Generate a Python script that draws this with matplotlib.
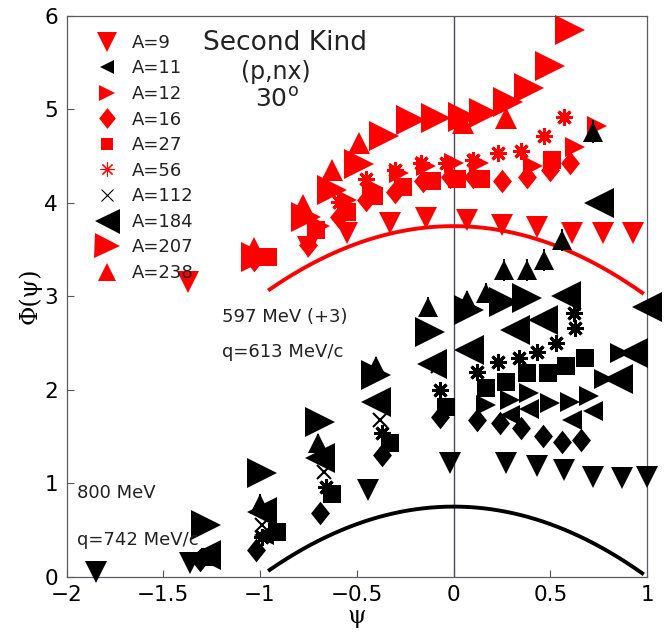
import numpy as np
import matplotlib
matplotlib.use("Agg")
import matplotlib.pyplot as plt
from matplotlib.lines import Line2D
from matplotlib.path import Path

plt.rcParams['font.family'] = ['DejaVu Sans']
plt.rcParams['mathtext.fontset'] = 'dejavusans'

# 597 MeV data, already shifted up by 3
u9_x = [-1.37, -0.75, -0.55, -0.33, -0.14, 0.07, 0.25, 0.43, 0.61, 0.77, 0.925]
u9_y = [3.15, 3.53, 3.68, 3.78, 3.84, 3.82, 3.76, 3.74, 3.68, 3.68, 3.68]
u12_x = [-0.69, -0.55, -0.42, -0.28, -0.14, 0.00, 0.13, 0.41, 0.63, 0.74]
u12_y = [3.75, 4.03, 4.17, 4.32, 4.39, 4.43, 4.42, 4.39, 4.60, 4.82]
u16_x = [-1.03, -0.75, -0.59, -0.45, -0.30, -0.16, -0.02, 0.10, 0.25, 0.38, 0.50, 0.60]
u16_y = [3.39, 3.55, 3.85, 4.03, 4.12, 4.23, 4.28, 4.28, 4.23, 4.28, 4.35, 4.43]
u27_x = [-0.96, -0.71, -0.55, -0.41, -0.26, -0.11, 0.02, 0.14, 0.51]
u27_y = [3.42, 3.71, 3.90, 4.07, 4.17, 4.23, 4.25, 4.25, 4.46]
u56_x = [-0.59, -0.45, -0.30, -0.17, -0.04, 0.10, 0.23, 0.35, 0.47, 0.57]
u56_y = [4.01, 4.25, 4.35, 4.42, 4.42, 4.46, 4.53, 4.55, 4.71, 4.92]
u207_x = [-1.02, -0.76, -0.63, -0.49, -0.36, -0.22, -0.09, 0.05, 0.16, 0.28, 0.39, 0.50, 0.60]
u207_y = [3.42, 3.85, 4.14, 4.41, 4.71, 4.89, 4.91, 4.92, 4.96, 5.08, 5.23, 5.46, 5.85]
u238_x = [-1.03, -0.78, -0.63, -0.49, 0.05, 0.27]
u238_y = [3.52, 3.98, 4.35, 4.64, 4.85, 4.91]
u184_x = [0.75]
u184_y = [4.00]
ub238_x = [0.72]
ub238_y = [4.76]
ub238_err = [0.12]

# 800 MeV data
l9_x = [-1.85, -1.36, -0.44, -0.02, 0.27, 0.43, 0.57, 0.72, 0.87, 1.00]
l9_y = [0.05, 0.15, 0.93, 1.22, 1.22, 1.18, 1.14, 1.07, 1.06, 1.07]
l11_x = [0.29, 0.39, 0.61, 0.72, -0.98]
l11_y = [1.73, 1.79, 1.68, 1.77, 0.45]
l12_x = [0.17, 0.29, 0.39, 0.50, 0.60, 0.70, 0.78, 0.86]
l12_y = [1.84, 1.89, 1.96, 1.86, 1.87, 1.93, 2.12, 2.39]
l16_x = [-1.31, -1.02, -0.69, -0.37, -0.07, 0.12, 0.24, 0.35, 0.46, 0.56, 0.66]
l16_y = [0.18, 0.29, 0.68, 1.30, 1.71, 1.68, 1.64, 1.59, 1.50, 1.44, 1.46]
l27_x = [-1.26, -0.91, -0.63, -0.33, -0.04, 0.17, 0.27, 0.38, 0.49, 0.58, 0.68]
l27_y = [0.21, 0.48, 0.88, 1.43, 1.82, 2.02, 2.08, 2.18, 2.18, 2.25, 2.34]
l56_x = [-0.99, -0.66, -0.37, -0.07, 0.12, 0.23, 0.34, 0.43, 0.53, 0.63, 0.62]
l56_y = [0.43, 0.96, 1.54, 2.00, 2.19, 2.30, 2.34, 2.40, 2.50, 2.66, 2.82]
l112_x = [-0.99, -0.67, -0.38, -0.08]
l112_y = [0.55, 1.12, 1.68, 2.25]
l184_x = [-1.28, -0.99, -0.69, -0.40, -0.11, 0.08, 0.32, 0.46, 0.58, 0.93, 0.85, 1.00]
l184_y = [0.23, 0.69, 1.27, 1.87, 2.27, 2.43, 2.64, 2.75, 3.00, 2.39, 2.12, 2.89]
l207_x = [-1.28, -0.99, -0.69, -0.40, -0.12, 0.08, 0.26, 0.38]
l207_y = [0.55, 1.11, 1.66, 2.16, 2.62, 2.85, 2.94, 2.98]
l238_x = [-1.00, -0.70, -0.40, -0.13, 0.07, 0.17, 0.26, 0.38, 0.47, 0.56]
l238_y = [0.78, 1.43, 2.25, 2.89, 2.96, 3.04, 3.28, 3.28, 3.39, 3.60]
l238_err = [0.1, 0.1, 0.1, 0.1, 0.1, 0.1, 0.12, 0.12, 0.12, 0.12]

# relativistic Fermi gas scaling function 3/4 (1 - psi^2)
rfg_peak = 0.75
rfg_shift = 3.0
psi_lo, psi_hi = -0.95, 0.975

labels = ['A=9', 'A=11', 'A=12', 'A=16', 'A=27', 'A=56', 'A=112', 'A=184', 'A=207', 'A=238']

diamond = Path([(0, 1), (0.8, 0), (0, -1), (-0.8, 0), (0, 1)],
               [Path.MOVETO, Path.LINETO, Path.LINETO, Path.LINETO, Path.CLOSEPOLY])
aster = (8, 2, 0)

fig = plt.figure(figsize=(6.65, 6.36), dpi=100)
ax = fig.add_axes([0.100, 0.0932, 0.873, 0.882])


def pts(x, y, m, c, ms, mew=0.0):
    ax.plot(x, y, linestyle='none', marker=m, color=c, markersize=ms,
            markeredgecolor=c, markeredgewidth=mew, clip_on=False, zorder=3)


R = '#ff0000'
K = 'black'

# 800 MeV set
pts(l207_x, l207_y, '>', K, 21)
pts(l184_x, l184_y, '<', K, 21)
pts(l9_x, l9_y, 'v', K, 16)
pts(l12_x, l12_y, '>', K, 15)
pts(l11_x, l11_y, '<', K, 15)
pts(l16_x, l16_y, diamond, K, 17)
pts(l27_x, l27_y, 's', K, 12.5)
pts(l56_x, l56_y, aster, K, 12, 2.2)
pts(l112_x, l112_y, 'x', K, 10, 1.5)
ax.errorbar(l238_x, l238_y, yerr=l238_err, fmt='^', color=K, markersize=15,
            markeredgewidth=0, elinewidth=1.5, capsize=4, capthick=2.5,
            clip_on=False, zorder=3)

# 597 MeV set (+3)
pts(u207_x, u207_y, '>', R, 21)
pts(u238_x, u238_y, '^', R, 16)
pts(u9_x, u9_y, 'v', R, 16)
pts(u12_x, u12_y, '>', R, 15)
pts(u16_x, u16_y, diamond, R, 17)
pts(u27_x, u27_y, 's', R, 12.5)
pts(u56_x, u56_y, aster, R, 12, 2.2)
pts(u184_x, u184_y, '<', K, 21)
ax.errorbar(ub238_x, ub238_y, yerr=ub238_err, fmt='^', color=K, markersize=15,
            markeredgewidth=0, elinewidth=1.5, capsize=4, capthick=2.5,
            clip_on=False, zorder=3)

psi = np.linspace(psi_lo, psi_hi, 200)
f = rfg_peak * (1 - psi ** 2)
ax.plot(psi, f + rfg_shift, color=R, lw=2.8, zorder=2)
ax.plot(psi, f, color=K, lw=2.8, zorder=2)

ax.axvline(0, color='#4b4560', lw=1.0, zorder=1)

ax.set_xlim(-2, 1)
ax.set_ylim(0, 6)
ax.set_xticks([-2, -1.5, -1, -0.5, 0, 0.5, 1])
ax.set_xticklabels(['\u22122', '\u22121.5', '\u22121', '\u22120.5', '0', '0.5', '1'])
ax.set_yticks(range(7))
ax.tick_params(direction='in', length=5, width=0.8, labelsize=15.5, color='#555555')
ax.tick_params(axis='y', pad=6)
ax.tick_params(axis='x', pad=6)
for s in ax.spines.values():
    s.set_color('#5a5a66')
    s.set_linewidth(0.9)

ax.set_xlabel('\u03c8', family='DejaVu Serif', fontsize=17, labelpad=0)
ax.set_ylabel('\u03a6(\u03c8)', family='DejaVu Serif', fontsize=17, labelpad=2)

ax.text(-0.873, 5.71, 'Second Kind', fontsize=19, ha='center', va='center', color='#222222')
ax.text(-0.92, 5.40, '(p,nx)', fontsize=17, ha='center', va='center', color='#222222')
ax.text(-0.914, 5.10, '30$^{\\rm o}$', fontsize=18, ha='center', va='center', color='#222222')
ax.text(-1.198, 2.78, '597 MeV (+3)', fontsize=13, ha='left', va='center', color='#222222')
ax.text(-1.198, 2.40, 'q=613 MeV/c', fontsize=13, ha='left', va='center', color='#222222')
ax.text(-1.947, 0.90, '800 MeV', fontsize=13, ha='left', va='center', color='#222222')
ax.text(-1.947, 0.39, 'q=742 MeV/c', fontsize=13, ha='left', va='center', color='#222222')

leg_style = [('v', R, 14, 0), ('<', K, 10, 0), ('>', R, 11.5, 0), (diamond, R, 15, 0),
             ('s', R, 8.5, 0), (aster, R, 10, 0.8), ('x', K, 9, 0.8), ('<', K, 18, 0),
             ('>', R, 18, 0), ('^', R, 13, 0)]
handles = [Line2D([], [], linestyle='none', marker=m, color=c, markersize=ms,
                  markeredgecolor=c, markeredgewidth=mew)
           for m, c, ms, mew in leg_style]
leg = ax.legend(handles, labels, loc='upper left', bbox_to_anchor=(0.014, 1.0),
                frameon=False, fontsize=13, labelspacing=0.42, handlelength=1.6,
                handletextpad=0.55, borderaxespad=0.6)
for t in leg.get_texts():
    t.set_color('#222222')

fig.savefig('out.png', dpi=100)
